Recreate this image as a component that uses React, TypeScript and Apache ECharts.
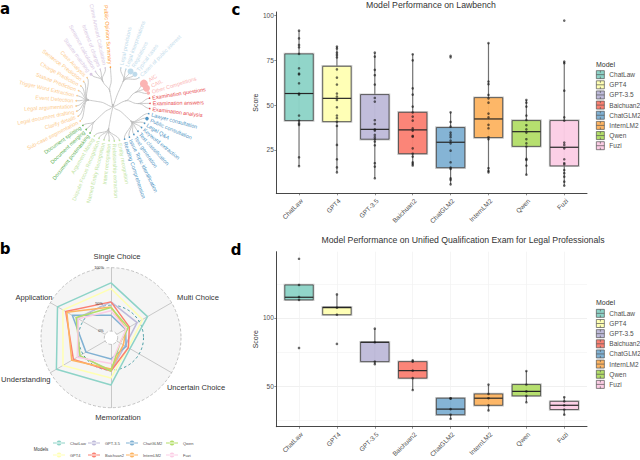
import React, { useEffect, useRef } from "react";
import * as echarts from "echarts";

const MODELS = ["ChatLaw", "GPT4", "GPT-3.5", "Baichuan2", "ChatGLM2", "InternLM2", "Qwen", "Fuzi"];
const COLORS = ["#8DD3C7", "#FFFFB3", "#BEBADA", "#FB8072", "#80B1D3", "#FDB462", "#B3DE69", "#FCCDE5"];
const FONT = "Liberation Sans";

// Panel c: Lawbench
const lawMin = [16, 12.5, 9.2, 16.3, 5.8, 12.5, 11.2, 5.1];
const lawQ1 = [41.4, 40.8, 31, 22.9, 15.1, 31.9, 27, 16.1];
const lawMedian = [56.5, 53.8, 36.5, 36.2, 29.3, 42.3, 35.2, 26.5];
const lawQ3 = [78.6, 71.7, 55.9, 46, 37.5, 54.2, 41.4, 41.4];
const lawMax = [91.6, 82.7, 79.3, 78.4, 46, 84.6, 52.9, 74.3];
const lawPoints = [
  [91.6, 87.3, 83.6, 82.3, 78.6, 70.6, 67.6, 67.2, 62.2, 56.5, 55.9, 44.2, 41.4, 39.8, 39, 20.9, 16],
  [82.7, 81.6, 79.3, 78, 76.7, 70, 65.4, 61.5, 56.5, 54.8, 52.9, 48.8, 44.2, 42.7, 40.8, 38.4, 27.8, 19.8, 15.3, 12.5],
  [79.3, 77.1, 69.7, 66.7, 61.5, 54, 52, 41.6, 39.5, 36.5, 35.8, 33.4, 32.1, 31, 29.7, 27.6, 17.6, 15.7, 9.2],
  [78.4, 75, 59.4, 55.9, 49.2, 46, 43.6, 41.4, 37.1, 35.8, 32.8, 32.4, 25.9, 22.9, 21.3, 18.1, 17.2, 16.3],
  [77.5, 76.7, 46, 40.6, 38, 34.7, 33.4, 32.1, 30.2, 28.7, 24.6, 18.1, 15.1, 14.4, 9.2, 8.3, 5.8],
  [84.6, 63.2, 61.7, 55.7, 53.8, 51.4, 45.3, 43.2, 39, 37.1, 32.1, 31, 14.8, 13.3, 12.5],
  [52.9, 51.4, 49.2, 44.2, 41.7, 38.8, 36.5, 34.7, 31, 28.7, 26.9, 20, 19.4, 16.3, 11.2],
  [97.2, 74.3, 73.4, 58.1, 43.2, 41.4, 29.1, 27.8, 25.9, 19.8, 17.6, 17, 13.8, 12, 10.1, 7.3, 5.1],
];

// Panel d: Unified Qualification Exam
const examMin = [113.3, 102.4, 66.1, 47.2, 26.1, 32.2, 38.2, 29.1];
const examQ1 = [113.3, 102.4, 68, 55.9, 29.1, 36, 42.9, 32.9];
const examMedian = [115.2, 107.6, 82.2, 61.4, 33.2, 41.2, 46.2, 36];
const examQ3 = [124.2, 108, 82.2, 68, 41.2, 44.3, 51.2, 38.9];
const examMax = [124.2, 117.3, 92.2, 69, 41.2, 51.2, 61.1, 41.9];
const examPoints = [
  [143.4, 124.2, 115.4, 113.3, 78],
  [117.3, 107.6, 102.4, 81],
  [92.2, 82.2, 68, 66.1],
  [69, 68, 61.4, 55.9, 47.2],
  [41.2, 40.8, 33.2, 29.1, 26.1],
  [51.2, 44.3, 41.2, 36, 32.2],
  [61.1, 51.2, 46.2, 42.9, 38.2],
  [41.9, 38.9, 36, 32.9, 29.1],
];

// Panel b: radar (radial position, clockwise from Single Choice)
const radarAxes = ["Single Choice", "Multi Choice", "Uncertain Choice", "Memorization", "Understanding", "Application"];
const radarChatLaw = [76, 56, 24, 64, 89, 87];
const radarGPT4 = [67, 47, 21, 53, 77, 77];
const radarGPT35 = [46, 37, 15, 41, 47, 51];
const radarBaichuan2 = [46, 23, 21, 42, 58, 72];
const radarChatGLM2 = [25, 16, 17, 23, 35, 60];
const radarInternLM2 = [38, 17, 12, 39, 61, 70];
const radarQwen = [37, 21, 6, 42, 46, 53];
const radarFuzi = [32, 17, 6, 30, 51, 49];

// Panel a: task taxonomy, clockwise from the top
const lightBlueTasks = ["Legal provisions", "Legal interpretations", "Regulations", "Typical cases", "Cases of public interest"];
const pinkTasks = ["AIC", "CAIL", "Other Competitions"];
const redTasks = ["Examination questions", "Examination answers", "Examination analysis"];
const blueTasks = ["Lawyer consultation", "Public consultation", "Legal Q&A", "Keyword extraction", "Text classification", "Text generation", "Issue Topic identification", "Reading Comprehension"];
const lightGreenTasks = ["Entity recognition", "Relationship extraction", "Intent recognition", "Named Entity Recognition", "Dispute Focus Recognition", "Argument Mining"];
const greenTasks = ["Document postmasking", "Document merging", "Document splitting"];
const lightOrangeTasks = ["Sub-case segmentation", "Clarify details", "Legal document drafting", "Legal argumentation", "Event Detection", "Trigger Word Extraction", "Statute Prediction", "Charge Prediction", "Sentence Prediction", "Case Analysis"];
const purpleTasks = ["Statute matching", "Sentence calculation", "Interest of charges", "Crime Amount Calculation"];
const orangeTasks = ["Public Opinion Summary"];
const bigDots: Record<string, number> = { Regulations: 6, "Typical cases": 5, AIC: 8, CAIL: 7, "Other Competitions": 3.5, "Public consultation": 3.5, "Statute matching": 3 };

const hiddenNode = { symbolSize: 0, label: { show: false } };
// Invisible leaves keep the angular step even between and within the branches.
const spacer = () => ({ name: " ", ...hiddenNode, lineStyle: { opacity: 0, width: 0 } });
const branch = (names: string[], color: string, lead = 0) => ({
  name: color,
  ...hiddenNode,
  children: [
    ...Array.from({ length: lead }, spacer),
    ...names.flatMap((name, i) => [
      ...(i > 0 ? [spacer()] : []),
      {
        name,
        symbolSize: bigDots[name] ?? 1.6,
        itemStyle: { color, borderWidth: 0 },
        label: { color },
      },
    ]),
  ],
});
const fork = (name: string, children: any[]) => ({ name, ...hiddenNode, children });

const treeData = fork("root", [
  fork("m1", [branch(lightBlueTasks, "#bfdbeb", 2)]),
  fork("m2", [branch(pinkTasks, "#fbb4b3", 1), branch(redTasks, "#e8474a")]),
  fork("m3", [branch(blueTasks, "#4f95c4")]),
  fork("m4", [branch(lightGreenTasks, "#c2e5a3")]),
  fork("m5", [branch(greenTasks, "#62b358")]),
  fork("m6", [branch(lightOrangeTasks, "#fdcb8c")]),
  fork("m7", [branch(purpleTasks, "#d8c8e3"), branch(orangeTasks, "#ff9a33")]),
]);

const boxRenderer = (color: string) => (_: any, api: any) => {
  const x = api.value(0);
  const y = (i: number) => api.coord([x, api.value(i)])[1];
  const cx = api.coord([x, 0])[0];
  const w = api.size([0.75, 0])[0];
  const left = cx - w / 2;
  const rect = { x: left, y: y(4), width: w, height: y(2) - y(4) };
  return {
    type: "group",
    children: [
      { type: "line", shape: { x1: cx, y1: y(1), x2: cx, y2: y(5) }, style: { stroke: "rgba(60,60,60,0.72)", lineWidth: 1.2 } },
      { type: "rect", shape: rect, style: { fill: "none", stroke: "rgba(150,150,150,0.5)", lineWidth: 2.4 } },
      { type: "rect", shape: rect, style: { fill: color, opacity: 0.96, stroke: "#4a4a4a", lineWidth: 0.9 } },
      { type: "line", shape: { x1: left, y1: y(3), x2: left + w, y2: y(3) }, style: { stroke: "#262626", lineWidth: 1.2 } },
    ],
  };
};

const boxSeries = (axis: number, mins: number[], q1: number[], med: number[], q3: number[], max: number[]) =>
  MODELS.map((name, i) => ({
    type: "custom",
    name,
    xAxisIndex: axis,
    yAxisIndex: axis,
    itemStyle: { color: COLORS[i] },
    renderItem: boxRenderer(COLORS[i]),
    encode: { x: 0, y: [1, 2, 3, 4, 5] },
    data: [[i, mins[i], q1[i], med[i], q3[i], max[i]]],
    z: 2,
  }));

const pointSeries = (axis: number, points: number[][]) => ({
  type: "scatter",
  name: "Observations",
  xAxisIndex: axis,
  yAxisIndex: axis,
  symbolSize: 2.6,
  itemStyle: { color: "#111", opacity: 0.62 },
  data: points.flatMap((vals, i) => vals.map((v) => [i, v])),
  z: 3,
});

const tickIdx = MODELS.map((_, i) => i);
const xAxisFor = (gridIndex: number, gridLines: boolean) => ({
  type: "value",
  gridIndex,
  min: -0.6,
  max: 7.6,
  axisLine: { show: true, onZero: false, lineStyle: { color: "#333", width: 0.9 } },
  axisTick: { show: true, length: 2, customValues: tickIdx, lineStyle: { color: "#444", width: 0.6 } },
  axisLabel: {
    customValues: tickIdx,
    formatter: (v: number) => MODELS[Math.round(v)],
    rotate: 45,
    align: "right",
    verticalAlign: "top",
    margin: 4,
    fontSize: 6.5,
    color: "#4d4d4d",
    fontFamily: FONT,
  },
  splitLine: { show: gridLines, lineStyle: { color: "#f0f0f0", width: 0.7 } },
});

const legendKey = "path://M0 0H10V10H0Z M0 5H10 M5 0V2.5 M5 7.5V10";
const radarKey = "path://M0 4H24V6H0Z M12 0a5 5 0 1 0 .01 0Z";

const boxLegend = (top: number) => ({
  orient: "vertical",
  left: 596,
  top,
  padding: 0,
  itemWidth: 8,
  itemHeight: 8,
  itemGap: 1.45,
  icon: legendKey,
  selectedMode: false,
  itemStyle: { borderColor: "#555", borderWidth: 0.7 },
  textStyle: { fontSize: 6.5, color: "#4d4d4d", fontFamily: FONT },
  data: MODELS,
});

const radarLegendCols = [
  { left: 53, names: ["ChatLaw", "GPT4"] },
  { left: 88, names: ["GPT-3.5", "Baichuan2"] },
  { left: 126, names: ["ChatGLM2", "InternLM2"] },
  { left: 166, names: ["Qwen", "Fuzi"] },
];
const radarLegends = radarLegendCols.map((c) => ({
  orient: "vertical",
  left: c.left,
  top: 440.5,
  padding: 0,
  itemWidth: 12,
  itemHeight: 5,
  itemGap: 7,
  icon: radarKey,
  selectedMode: false,
  itemStyle: { borderWidth: 0 },
  textStyle: { fontSize: 4, color: "#4d4d4d", fontFamily: FONT },
  data: c.names,
}));

const label = (text: string, x: number, y: number, fontSize: number, extra: any = {}) => ({
  type: "text",
  x,
  y,
  z: 20,
  style: { text, fontSize, fontFamily: FONT, fill: "#333", align: "center", verticalAlign: "middle", ...extra },
});

const panelLetter = (text: string, x: number, y: number) =>
  label(text, x, y, 15, { fontWeight: 900, fill: "#000", fontFamily: "DejaVu Sans", align: "center" });

const radarCx = 111;
const radarCy = 337.7;

const radarOrder = [0, 5, 4, 3, 2, 1];
const byRadarOrder = (vals: any[]) => radarOrder.map((i) => vals[i]);

export default function App() {
  const ref = useRef<HTMLDivElement>(null);
  useEffect(() => {
    const chart = echarts.init(ref.current!, undefined, { renderer: "svg" });
    chart.setOption({
      animation: false,
      backgroundColor: "#fff",
      grid: [
        { left: 276.3, top: 12, width: 310.7, height: 181.3 },
        { left: 276.3, top: 251.7, width: 310.7, height: 180.3 },
      ],
      xAxis: [xAxisFor(0, false), xAxisFor(1, true)],
      yAxis: [
        {
          type: "value",
          gridIndex: 0,
          min: 0.8,
          max: 102,
          name: "Score",
          nameLocation: "center",
          nameGap: 17,
          nameRotate: 90,
          nameTextStyle: { fontSize: 7, color: "#333", fontFamily: FONT },
          axisLine: { show: true, onZero: false, lineStyle: { color: "#333", width: 0.9 } },
          axisTick: { show: true, length: 2, customValues: [25, 50, 75, 100], lineStyle: { color: "#444", width: 0.6 } },
          axisLabel: { customValues: [25, 50, 75, 100], fontSize: 6.5, color: "#4d4d4d", margin: 2.5, fontFamily: FONT },
          splitLine: { show: false },
        },
        {
          type: "value",
          gridIndex: 1,
          min: 20.3,
          max: 148.6,
          name: "Score",
          nameLocation: "center",
          nameGap: 17,
          nameRotate: 90,
          nameTextStyle: { fontSize: 7, color: "#333", fontFamily: FONT },
          axisLine: { show: true, onZero: false, lineStyle: { color: "#333", width: 0.9 } },
          axisTick: { show: true, length: 2, customValues: [50, 100], lineStyle: { color: "#444", width: 0.6 } },
          axisLabel: { customValues: [50, 100], fontSize: 6.5, color: "#4d4d4d", margin: 2.5, fontFamily: FONT },
          splitLine: { show: true, lineStyle: { color: "#f0f0f0", width: 1 } },
        },
        {
          type: "value",
          gridIndex: 1,
          min: 20.3,
          max: 148.6,
          position: "left",
          axisLine: { show: false },
          axisTick: { show: false, customValues: [25, 75, 125] },
          axisLabel: { show: false, customValues: [25, 75, 125] },
          splitLine: { show: true, lineStyle: { color: "#f4f4f4", width: 0.7 } },
        },
      ],
      radar: {
        center: [radarCx, radarCy],
        radius: [6.7, 70],
        startAngle: 90,
        splitNumber: 1,
        shape: "circle",
        indicator: byRadarOrder(radarAxes).map((n: string) => ({ name: n, min: 0, max: 100 })),
        axisName: { show: false },
        axisLine: { lineStyle: { color: "#bdbdbd", width: 0.8 } },
        axisTick: { show: false },
        axisLabel: { show: false },
        splitLine: { lineStyle: { color: "#b5b5b5", width: 0.8, type: [3, 2] } },
        splitArea: { show: true, areaStyle: { color: ["#f5f5f5"], opacity: 1 } },
      },
      legend: [boxLegend(70.3), boxLegend(309), ...radarLegends],
      series: [
        {
          type: "tree",
          name: "Tasks",
          layout: "radial",
          left: 76,
          top: 67,
          width: 74,
          height: 74,
          roam: false,
          silent: true,
          expandAndCollapse: false,
          initialTreeDepth: -1,
          edgeShape: "curve",
          symbol: "circle",
          lineStyle: { color: "#bcbcbc", width: 0.8, curveness: 0.5 },
          label: { show: true, fontSize: 5.4, fontFamily: FONT, distance: 2 },
          leaves: { label: { show: true } },
          data: [treeData],
        },
        {
          type: "radar",
          name: "Models",
          symbol: "none",
          z: 3,
          data: [radarChatLaw, radarGPT4, radarGPT35, radarBaichuan2, radarChatGLM2, radarInternLM2, radarQwen, radarFuzi].map((vals, i) => ({
            name: MODELS[i],
            value: byRadarOrder(vals),
            lineStyle: { color: COLORS[i], width: 1.5 },
            itemStyle: { color: COLORS[i] },
          })),
        },
        ...boxSeries(0, lawMin, lawQ1, lawMedian, lawQ3, lawMax),
        pointSeries(0, lawPoints),
        ...boxSeries(1, examMin, examQ1, examMedian, examQ3, examMax),
        pointSeries(1, examPoints),
      ],
      graphic: [
        { type: "circle", z: 1, shape: { cx: radarCx, cy: radarCy, r: 32.5 }, style: { fill: "none", stroke: "#2f8f97", lineWidth: 0.9, lineDash: [2.5, 2.5] } },
        panelLetter("a", 5, 9),
        panelLetter("b", 5, 249),
        panelLetter("c", 236, 10),
        panelLetter("d", 236, 250),
        label("Single Choice", 117, 256.7, 7.6),
        label("Multi Choice", 198, 297, 7.6),
        label("Uncertain Choice", 196, 387, 7.6),
        label("Memorization", 118, 417.7, 7.6),
        label("Understanding", 25.7, 379, 7.6),
        label("Application", 34, 297, 7.6),
        label("100%", 99, 268, 3.8),
        label("50%", 99, 304, 3.8),
        label("0%", 101, 331, 3.8),
        label("Models", 41, 449.3, 4.5),
        label("Model Performance on Lawbench", 431, 5, 8.7),
        label("Model Performance on Unified Qualification Exam for Legal Professionals", 463, 240, 8.7),
        label("Model", 596, 64, 7, { align: "left" }),
        label("Model", 596, 302, 7, { align: "left" }),
      ],
    });
    return () => chart.dispose();
  }, []);
  return <div ref={ref} style={{ position: "fixed", left: 0, top: 0, width: 640, height: 460 }} />;
}
